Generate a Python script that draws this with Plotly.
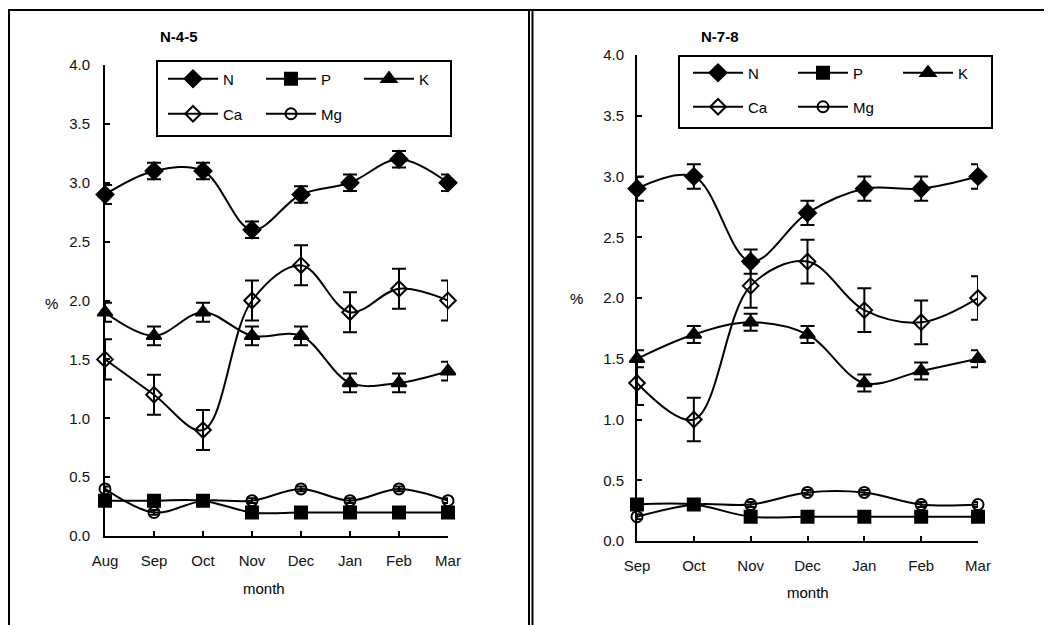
import plotly.graph_objects as go

W, H = 1052, 625
OX, OY = 8, 8  # page body offset of the figure inside the browser window

# ---------------- data ----------------
months_left = ["Aug", "Sep", "Oct", "Nov", "Dec", "Jan", "Feb", "Mar"]
months_right = ["Sep", "Oct", "Nov", "Dec", "Jan", "Feb", "Mar"]
elements = ["N", "P", "K", "Ca", "Mg"]

# N-4-5
left_N = [2.9, 3.1, 3.1, 2.6, 2.9, 3.0, 3.2, 3.0]
left_P = [0.3, 0.3, 0.3, 0.2, 0.2, 0.2, 0.2, 0.2]
left_K = [1.9, 1.7, 1.9, 1.7, 1.7, 1.3, 1.3, 1.4]
left_Ca = [1.5, 1.2, 0.9, 2.0, 2.3, 1.9, 2.1, 2.0]
left_Mg = [0.4, 0.2, 0.3, 0.3, 0.4, 0.3, 0.4, 0.3]
left_N_err = [0.08, 0.07, 0.07, 0.07, 0.07, 0.07, 0.07, 0.07]
left_P_err = [0.02] * 8
left_K_err = [0.08] * 8
left_Ca_err = [0.17] * 8
left_Mg_err = [0.02] * 8

# N-7-8
right_N = [2.9, 3.0, 2.3, 2.7, 2.9, 2.9, 3.0]
right_P = [0.3, 0.3, 0.2, 0.2, 0.2, 0.2, 0.2]
right_K = [1.5, 1.7, 1.8, 1.7, 1.3, 1.4, 1.5]
right_Ca = [1.3, 1.0, 2.1, 2.3, 1.9, 1.8, 2.0]
right_Mg = [0.2, 0.3, 0.3, 0.4, 0.4, 0.3, 0.3]
right_N_err = [0.1] * 7
right_P_err = [0.02] * 7
right_K_err = [0.07] * 7
right_Ca_err = [0.18] * 7
right_Mg_err = [0.02] * 7

y_ticks = [0.0, 0.5, 1.0, 1.5, 2.0, 2.5, 3.0, 3.5, 4.0]

# ---------------- styling ----------------
FONT = "Arial, 'Liberation Sans', sans-serif"
FS = 15
symbols = {"N": "diamond", "P": "square", "K": "triangle-up", "Ca": "diamond-open", "Mg": "circle-open"}
msizes = {"N": 13, "P": 12, "K": 13, "Ca": 12, "Mg": 11}
errw = {"N": 7, "P": 4, "K": 7, "Ca": 7, "Mg": 4}
row_of = {"N": 0, "P": 0, "K": 0, "Ca": 1, "Mg": 1}


def px(x):
    return (x - OX) / W


def py(y):
    return 1 - (y - OY) / H


fig = go.Figure()

panels = [
    dict(months=months_left, vals=[left_N, left_P, left_K, left_Ca, left_Mg],
         errs=[left_N_err, left_P_err, left_K_err, left_Ca_err, left_Mg_err],
         xa="x", ya="y", legends=["legend", "legend2"]),
    dict(months=months_right, vals=[right_N, right_P, right_K, right_Ca, right_Mg],
         errs=[right_N_err, right_P_err, right_K_err, right_Ca_err, right_Mg_err],
         xa="x2", ya="y2", legends=["legend3", "legend4"]),
]

for p in panels:
    for name, v, e in zip(elements, p["vals"], p["errs"]):
        fig.add_trace(go.Scatter(
            x=p["months"], y=v, name=name, mode="lines+markers",
            xaxis=p["xa"], yaxis=p["ya"],
            legend=p["legends"][row_of[name]],
            line=dict(color="black", width=2, shape="spline", smoothing=1),
            marker=dict(symbol=symbols[name], size=msizes[name], color="black",
                        line=dict(color="black", width=2)),
            error_y=dict(type="data", array=e, visible=True, color="black",
                         thickness=2, width=errw[name]),
            cliponaxis=False,
        ))

axis_common = dict(showline=True, linecolor="black", linewidth=2, ticks="inside",
                   ticklen=5, tickwidth=2, tickcolor="black", showgrid=False,
                   zeroline=False, automargin=False,
                   tickfont=dict(family=FONT, size=FS, color="#111"))

fig.update_layout(
    width=W, height=H, margin=dict(l=0, r=0, t=0, b=0, autoexpand=False),
    paper_bgcolor="white", plot_bgcolor="white", showlegend=True,
    xaxis=dict(domain=[px(105), px(448)], anchor="y", type="category",
               categoryorder="array", categoryarray=months_left, range=[0, 7],
               ticklabelstandoff=10, **axis_common),
    yaxis=dict(domain=[py(536), py(65)], anchor="x", range=[0, 4], tickvals=y_ticks,
               tickformat=".1f", ticklabelstandoff=10, **axis_common),
    xaxis2=dict(domain=[px(637), px(978)], anchor="y2", type="category",
                categoryorder="array", categoryarray=months_right, range=[0, 6],
                ticklabelstandoff=10, **axis_common),
    yaxis2=dict(domain=[py(541), py(55)], anchor="x2", range=[0, 4], tickvals=y_ticks,
                tickformat=".1f", ticklabelstandoff=8, **axis_common),
)

leg_common = dict(orientation="h", xanchor="left", yanchor="middle", bgcolor="rgba(0,0,0,0)",
                  borderwidth=0, font=dict(family=FONT, size=FS, color="black"),
                  itemwidth=50, entrywidthmode="pixels")
fig.update_layout(
    legend=dict(x=px(163), y=py(79), entrywidth=33, **leg_common),
    legend2=dict(x=px(163), y=py(114), entrywidth=33, **leg_common),
    legend3=dict(x=px(688), y=py(73), entrywidth=40, **leg_common),
    legend4=dict(x=px(688), y=py(107), entrywidth=40, **leg_common),
)

shapes = []
lw = 2
# outer frames
shapes.append(dict(type="line", xref="paper", yref="paper", x0=px(9), x1=px(9), y0=py(10), y1=-0.05,
                   line=dict(color="black", width=lw)))
shapes.append(dict(type="line", xref="paper", yref="paper", x0=px(8), x1=1.02, y0=py(10), y1=py(10),
                   line=dict(color="black", width=lw)))
shapes.append(dict(type="line", xref="paper", yref="paper", x0=px(529), x1=px(529), y0=py(10), y1=-0.05,
                   line=dict(color="black", width=lw)))
shapes.append(dict(type="line", xref="paper", yref="paper", x0=px(532.5), x1=px(532.5), y0=py(10), y1=-0.05,
                   line=dict(color="black", width=lw)))
# legend boxes
shapes.append(dict(type="rect", xref="paper", yref="paper", x0=px(157), x1=px(451), y0=py(136), y1=py(61),
                   line=dict(color="black", width=lw), fillcolor="rgba(0,0,0,0)", layer="below"))
shapes.append(dict(type="rect", xref="paper", yref="paper", x0=px(679), x1=px(992), y0=py(128), y1=py(56),
                   line=dict(color="black", width=lw), fillcolor="rgba(0,0,0,0)", layer="below"))
fig.update_layout(shapes=shapes)

ann_font = dict(family=FONT, size=FS, color="black")
annotations = [
    dict(text="<b>N-4-5</b>", x=px(179), y=py(37)),
    dict(text="<b>N-7-8</b>", x=px(720), y=py(37)),
    dict(text="%", x=px(51), y=py(303)),
    dict(text="%", x=px(576), y=py(298)),
    dict(text="month", x=px(264), y=py(588)),
    dict(text="month", x=px(808), y=py(592)),
]
for a in annotations:
    a.update(xref="paper", yref="paper", showarrow=False, xanchor="center", yanchor="middle",
             font=ann_font)
fig.update_layout(annotations=annotations)

fig.write_html("out.html")
